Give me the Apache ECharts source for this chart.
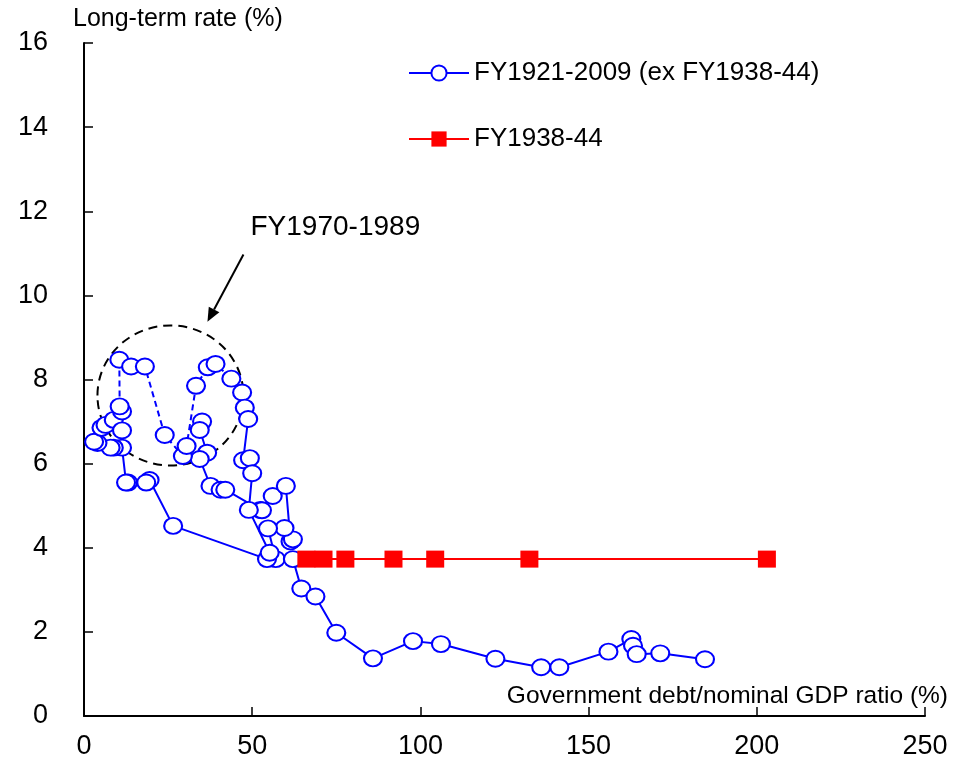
<!DOCTYPE html>
<html>
<head>
<meta charset="utf-8">
<script src="https://cdn.jsdelivr.net/npm/echarts@6/dist/echarts.min.js"></script>
<style>html,body{margin:0;padding:0;background:#fff}#c{width:957px;height:777px}</style>
</head>
<body>
<div id="c"></div>
<script>
// ---------- data ----------
const seriesNames = ['FY1921-2009 (ex FY1938-44)', 'FY1938-44'];
const xAxisTitle = 'Government debt/nominal GDP ratio (%)';
const yAxisTitle = 'Long-term rate (%)';
const annotationText = 'FY1970-1989';

// blue series, solid part before FY1970 (debt ratio %, long-term rate %)
const blueEarly = [
  [35.1,7.00],[34.4,6.80],[36.6,6.26],[34.4,6.11],[37.6,5.47],[40.6,5.38],[42.0,5.38],
  [52.4,4.90],[52.9,4.89],[56.1,5.23],[60.0,5.47],[61.4,4.15],[62.1,4.20],[59.6,4.47],
  [54.7,4.46],[57.0,3.73],[54.4,3.73],[26.5,4.52],[19.5,5.61],[18.5,5.55],[13.1,5.55],
  [12.5,5.55],[11.3,6.38],[8.85,6.38],[7.9,6.38],[4.0,6.49],[3.0,6.52],[5.2,6.85],
  [6.4,6.92],[8.85,7.04],[11.3,6.79],[11.3,7.24],[10.6,7.36]
];
// blue series, FY1970-1989 (dashed)
const blue1970s = [
  [10.6,7.36],[10.5,8.47],[14.0,8.31],[18.1,8.31],[24.0,6.68],[29.4,6.18],[30.5,6.42],
  [33.3,7.85],[36.8,8.29],[39.1,8.37],[43.8,8.02],[47.0,7.69],[47.8,7.33],[48.8,7.06]
];
// blue series, FY1990-2009 (solid)
const blueLate = [
  [48.8,7.06],[47.3,6.08],[49.3,6.13],[50.0,5.77],[49.0,4.90],[55.2,3.88],[62.1,3.73],
  [64.6,3.03],[68.8,2.84],[75.0,1.98],[85.9,1.37],[97.8,1.78],[106.1,1.71],[122.3,1.36],
  [135.9,1.16],[141.3,1.16],[155.9,1.53],[162.7,1.83],[163.2,1.67],[164.3,1.47],
  [171.3,1.49],[184.6,1.35]
];
// red series FY1938-44
const redDebt = [66.1, 71.2, 77.7, 92.0, 104.4, 132.4, 203.0];
const redRate = [3.73, 3.73, 3.73, 3.73, 3.73, 3.73, 3.73];

// annotation anchors (data coords)
const circleCenter = [25.7, 7.62];
const circleRadius = [21.7, 1.665];
const arrowFrom = [47.4, 10.97];
const arrowTo = [36.7, 9.37];
const labelAt = [49.5, 11.62];

// ---------- build ----------
const FONT = 'Liberation Sans, Arial, sans-serif';
const GAP = ['-', '-'];
const mainData = [];
blueEarly.forEach(p => mainData.push(p));
mainData.push(GAP);
blue1970s.slice(1, -1).forEach(p => { mainData.push(p); mainData.push(GAP); });
blueLate.forEach(p => mainData.push(p));
const redData = redDebt.map((x, i) => [x, redRate[i]]);

const chart = echarts.init(document.getElementById('c'), null, {renderer: 'canvas'});
const option = {
  animation: false,
  backgroundColor: '#fff',
  grid: {left: 84, right: 32, top: 43, bottom: 61, containLabel: false},
  legend: {
    data: seriesNames,
    orient: 'vertical',
    left: 403, top: 55,
    itemWidth: 60, itemHeight: 19, itemGap: 40,
    textStyle: {fontSize: 26, color: '#000', fontFamily: FONT, padding: [0, 0, 0, 0]}
  },
  xAxis: {
    type: 'value', min: 0, max: 250, interval: 50,
    name: xAxisTitle, nameLocation: 'end', nameGap: 23,
    nameTextStyle: {fontSize: 24.5, color: '#000', fontFamily: FONT, align: 'right', verticalAlign: 'bottom', padding: [0, 0, 7, 0]},
    axisLine: {show: true, onZero: false, lineStyle: {color: '#000', width: 2}},
    axisTick: {show: true, inside: true, length: 9, lineStyle: {color: '#000', width: 1.5}},
    axisLabel: {fontSize: 27, color: '#000', fontFamily: FONT, margin: 17},
    splitLine: {show: false}
  },
  yAxis: {
    type: 'value', min: 0, max: 16, interval: 2,
    name: yAxisTitle, nameLocation: 'end', nameGap: 11,
    nameTextStyle: {fontSize: 25, color: '#000', fontFamily: FONT, align: 'left', verticalAlign: 'bottom', padding: [0, 0, 0, -11]},
    axisLine: {show: true, onZero: false, lineStyle: {color: '#000', width: 2}},
    axisTick: {show: true, inside: true, length: 9, lineStyle: {color: '#000', width: 1.5}},
    axisLabel: {fontSize: 27, color: '#000', fontFamily: FONT, margin: 36},
    splitLine: {show: false}
  },
  series: [
    {
      name: 'FY1970-1989 segment', type: 'line', data: blue1970s,
      showSymbol: false, symbol: 'none', z: 2,
      lineStyle: {color: '#0000ff', width: 2, type: [6, 4]},
      itemStyle: {color: '#0000ff'}
    },
    {
      name: seriesNames[0], type: 'line', data: mainData, z: 3,
      symbol: 'emptyCircle', symbolSize: [18, 16], showAllSymbol: true, connectNulls: false,
      lineStyle: {color: '#0000ff', width: 2},
      itemStyle: {color: '#0000ff', borderColor: '#0000ff', borderWidth: 2}
    },
    {
      name: seriesNames[1], type: 'line', data: redData, z: 4,
      symbol: 'rect', symbolSize: [18, 17],
      lineStyle: {color: '#ff0000', width: 2},
      itemStyle: {color: '#ff0000'}
    }
  ]
};
chart.setOption(option);

// annotations placed through the chart's own coordinate conversion
const toPx = p => chart.convertToPixel({gridIndex: 0}, p);
const c0 = toPx(circleCenter);
const cR = toPx([circleCenter[0] + circleRadius[0], circleCenter[1] + circleRadius[1]]);
const a0 = toPx(arrowFrom), a1 = toPx(arrowTo), t0 = toPx(labelAt);
const ang = Math.atan2(a1[1] - a0[1], a1[0] - a0[0]);
const headLen = 14, headW = 6;
const bx = a1[0] - headLen * Math.cos(ang), by = a1[1] - headLen * Math.sin(ang);
const head = [
  [a1[0], a1[1]],
  [bx + headW * Math.sin(ang), by - headW * Math.cos(ang)],
  [bx - headW * Math.sin(ang), by + headW * Math.cos(ang)]
];
chart.setOption({
  graphic: [
    {type: 'ellipse', shape: {cx: c0[0], cy: c0[1], rx: cR[0] - c0[0], ry: c0[1] - cR[1]},
     style: {fill: 'none', stroke: '#000', lineWidth: 2, lineDash: [9, 6]}, z: 1, silent: true},
    {type: 'line', shape: {x1: a0[0], y1: a0[1], x2: bx, y2: by},
     style: {stroke: '#000', lineWidth: 2}, silent: true},
    {type: 'polygon', shape: {points: head}, style: {fill: '#000'}, silent: true},
    {type: 'text', x: t0[0], y: t0[1],
     style: {text: annotationText, fontSize: 28, fontFamily: FONT, fill: '#000', textAlign: 'left', textVerticalAlign: 'middle'}}
  ]
});
</script>
</body>
</html>
